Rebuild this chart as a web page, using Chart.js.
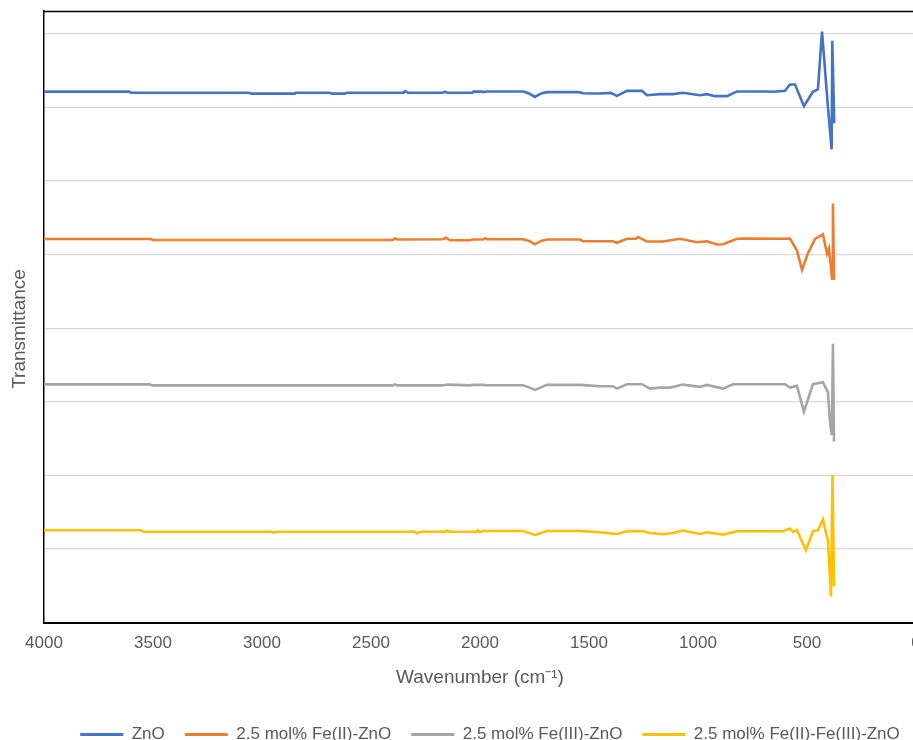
<!DOCTYPE html>
<html><head><meta charset="utf-8">
<script src="https://cdn.jsdelivr.net/npm/chart.js@4.4.1/dist/chart.umd.min.js"></script>
<style>
html,body{margin:0;padding:0;overflow:hidden;background:#fff;width:913px;height:740px}
#wrap{position:absolute;left:0;top:0;width:980px;height:753px}
</style></head>
<body><div id="wrap"><canvas id="c" width="980" height="753"></canvas></div>
<script>
// Series names
const seriesNames = ['ZnO', '2.5 mol% Fe(II)-ZnO', '2.5 mol% Fe(III)-ZnO', '2.5 mol% Fe(II)-Fe(III)-ZnO'];

// X tick values (wavenumber, cm-1)
const xTicks = [4000, 3500, 3000, 2500, 2000, 1500, 1000, 500, 0];
// Y gridline values (no labels shown)
const yGrid = [0, 10, 20, 30, 40, 50, 60, 70, 80];

// ZnO
const znoWn = [4000,3610,3600,3060,3050,2850,2845,2690,2680,2620,2610,2350,2344,2330,2170,2160,2150,2035,2030,1990,1986,1970,1800,1775,1748,1720,1693,1545,1528,1450,1400,1372,1326,1257,1234,1174,1115,1069,991,959,922,867,821,684,656,601,578,555,514,473,450,431,404,387,384,375];
const znoT  = [72.14,72.14,72.00,72.00,71.87,71.87,72.00,72.00,71.87,71.87,72.00,72.00,72.21,72.00,72.00,72.14,72.00,72.00,72.14,72.14,72.07,72.17,72.17,71.90,71.43,71.90,72.07,72.07,71.93,71.89,71.98,71.57,72.25,72.25,71.66,71.80,71.80,71.98,71.66,71.80,71.53,71.53,72.17,72.17,72.12,72.25,73.12,73.12,70.16,72.12,72.44,80.29,70.07,64.31,79.06,67.85];

// 2.5 mol% Fe(II)-ZnO
const fe2Wn = [4000,3510,3500,2400,2390,2380,2170,2155,2138,2046,2032,1986,1975,1968,1803,1775,1748,1720,1693,1541,1528,1390,1372,1326,1285,1275,1257,1234,1161,1083,1005,959,913,885,821,775,600,578,546,523,496,463,427,408,399,385,381,376];
const fe2T  = [52.11,52.11,51.98,51.98,52.20,52.05,52.08,52.28,51.95,51.95,52.04,52.04,52.22,52.08,52.08,51.85,51.40,51.85,52.04,52.04,51.81,51.81,51.60,52.14,52.14,52.38,52.14,51.77,51.77,52.14,51.68,51.81,51.36,51.40,52.14,52.18,52.14,52.18,50.54,47.92,50.14,52.14,52.75,50.10,50.82,46.73,56.95,46.59];

// 2.5 mol% Fe(III)-ZnO
const fe3Wn = [4000,3515,3505,2400,2390,2380,2170,2150,2106,2046,2032,1986,1968,1803,1775,1748,1720,1693,1541,1450,1390,1372,1326,1257,1220,1174,1128,1069,991,959,885,840,600,578,564,546,514,473,427,404,395,386,381,376];
const fe3T  = [32.36,32.36,32.22,32.22,32.36,32.22,32.22,32.33,32.29,32.22,32.29,32.29,32.25,32.25,31.95,31.61,31.95,32.29,32.29,32.11,32.11,31.79,32.38,32.38,31.79,31.92,31.92,32.33,32.02,32.29,31.79,32.38,32.38,31.92,32.02,32.15,28.65,32.38,32.65,31.30,27.38,25.48,37.87,24.59];

// 2.5 mol% Fe(II)-Fe(III)-ZnO
const fe23Wn = [4000,3555,3545,2960,2945,2930,2300,2289,2270,2161,2151,2138,2014,2010,2000,1986,1803,1775,1748,1720,1693,1541,1450,1390,1372,1326,1252,1220,1161,1115,1069,991,959,885,821,610,578,564,546,505,473,450,427,404,390,383,376];
const fe23T  = [12.53,12.53,12.33,12.33,12.22,12.33,12.33,12.13,12.33,12.33,12.49,12.33,12.33,12.53,12.26,12.44,12.44,12.15,11.89,12.15,12.44,12.44,12.26,12.08,12.03,12.40,12.40,12.17,11.99,12.17,12.49,12.03,12.26,11.95,12.40,12.40,12.77,12.30,12.57,9.81,12.40,12.53,13.99,11.13,3.54,20.03,4.90];

const colors = ['#4472C4', '#ED7D31', '#A5A5A5', '#FFC000'];
const wnSets = [znoWn, fe2Wn, fe3Wn, fe23Wn];
const tSets = [znoT, fe2T, fe3T, fe23T];

const FONT = "'Liberation Sans', Arial, sans-serif";
const TXT = '#595959';
const yTitle = 'Transmittance';

const datasets = seriesNames.map((name, i) => ({
  label: name,
  data: wnSets[i].map((w, k) => ({x: w, y: tSets[i][k]})),
  borderColor: colors[i],
  backgroundColor: colors[i],
  borderWidth: 2.6,
  pointRadius: 0,
  tension: 0,
  fill: false,
  yAxisID: 'y'
}));

const frame = {
  id: 'frame',
  afterDraw(chart) {
    const {ctx, chartArea: a} = chart;
    ctx.save();
    ctx.strokeStyle = '#000';
    ctx.lineWidth = 1.3;
    ctx.beginPath();
    ctx.moveTo(a.left, a.top + 0.5);
    ctx.lineTo(a.right, a.top + 0.5);
    ctx.stroke();
    // y axis title
    ctx.translate(20, 329);
    ctx.rotate(-Math.PI / 2);
    ctx.fillStyle = TXT;
    ctx.font = '19px ' + FONT;
    ctx.textAlign = 'center';
    ctx.textBaseline = 'middle';
    ctx.fillText(yTitle, 0, 0);
    ctx.restore();
  }
};

new Chart(document.getElementById('c'), {
  type: 'line',
  data: {datasets},
  plugins: [frame],
  options: {
    responsive: false,
    animation: false,
    devicePixelRatio: 1,
    layout: {padding: {top: 11, right: 0, bottom: 0, left: 0}},
    plugins: {
      legend: {
        position: 'bottom',
        labels: {
          font: {family: FONT, size: 17},
          color: TXT,
          boxWidth: 43,
          boxHeight: 3,
          padding: 20,
          generateLabels: (chart) => Chart.defaults.plugins.legend.labels.generateLabels(chart)
            .map(l => Object.assign(l, {lineWidth: 0, fillStyle: l.strokeStyle}))
        }
      },
      tooltip: {enabled: false}
    },
    scales: {
      x: {
        type: 'linear',
        position: 'bottom',
        reverse: true,
        min: 0,
        max: 4000,
        afterBuildTicks: s => { s.ticks = xTicks.map(v => ({value: v})); },
        ticks: {font: {family: FONT, size: 17}, color: TXT, padding: 11, maxRotation: 0, autoSkip: false,
                callback: v => String(v)},
        grid: {display: false, drawTicks: false},
        border: {display: true, color: '#000', width: 2},
        title: {display: true, text: 'Wavenumber (cm⁻¹)', font: {family: FONT, size: 19}, color: TXT, padding: {top: 0, bottom: 17}},
        afterFit: s => { s.height = 83.5; }
      },
      y: {
        type: 'linear',
        position: 'left',
        min: 0,
        max: 83.1,
        afterBuildTicks: s => { s.ticks = yGrid.map(v => ({value: v})); },
        ticks: {display: false},
        grid: {color: '#d9d9d9', lineWidth: 1.3, drawTicks: false},
        border: {display: true, color: '#000', width: 1.5},
        afterFit: s => { s.width = 44; }
      },
      yRight: {
        type: 'linear',
        position: 'right',
        display: true,
        ticks: {display: false},
        grid: {display: false, drawTicks: false},
        border: {display: false},
        afterFit: s => { s.width = 64; }
      }
    }
  }
});
</script>
</body></html>
